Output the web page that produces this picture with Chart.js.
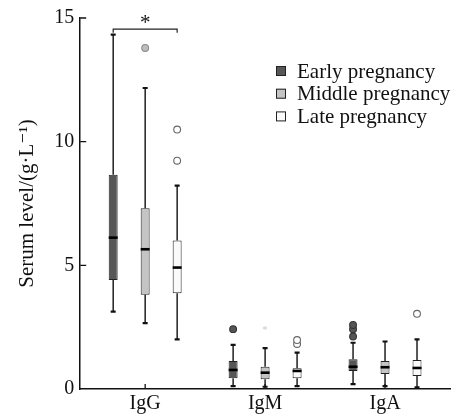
<!DOCTYPE html>
<html><head><meta charset="utf-8">
<script src="https://cdn.jsdelivr.net/npm/chart.js@4.4.1/dist/chart.umd.min.js"></script>
<style>html,body{margin:0;padding:0;background:#fff}#wrap{width:458px;height:419px;position:relative}</style>
</head><body><div id="wrap"><canvas id="c"></canvas></div>
<script>
const categories = ['IgG', 'IgM', 'IgA'];
const seriesNames = ['Early pregnancy', 'Middle pregnancy', 'Late pregnancy'];
const yTicks = [0, 5, 10, 15];

const earlyMin = [3.13, 0.12, 0.20];
const earlyQ1  = [4.41, 0.43, 0.73];
const earlyMed = [6.12, 0.77, 0.90];
const earlyQ3  = [8.66, 1.13, 1.20];
const earlyMax = [14.33, 1.78, 1.87];
const earlyOut = [[], [2.42], [2.12, 2.42, 2.59]];

const middleMin = [2.66, 0.09, 0.12];
const middleQ1  = [3.81, 0.39, 0.61];
const middleMed = [5.65, 0.66, 0.88];
const middleQ3  = [7.31, 0.90, 1.13];
const middleMax = [12.17, 1.65, 1.92];
const middleOut = [[13.79], [2.46], []];

const lateMin = [2.01, 0.12, 0.07];
const lateQ1  = [3.87, 0.43, 0.53];
const lateMed = [4.91, 0.73, 0.85];
const lateQ3  = [6.00, 0.84, 1.17];
const lateMax = [8.22, 1.47, 2.01];
const lateOut = [[9.23, 10.49], [1.82, 1.98], [3.04]];

const sigBracket = {category: 'IgG', from: 0, to: 2, level: 14.55, label: '*'};

const fills = ['#575757', '#c4c4c4', '#fafafa'];
const outlierFill = ['#555555', '#bdbdbd', '#ffffff'];
const outlierStroke = ['#333333', '#8a8a8a', '#666666'];

const stats = [
  {min: earlyMin, q1: earlyQ1, med: earlyMed, q3: earlyQ3, max: earlyMax, out: earlyOut},
  {min: middleMin, q1: middleQ1, med: middleMed, q3: middleQ3, max: middleMax, out: middleOut},
  {min: lateMin, q1: lateQ1, med: lateMed, q3: lateQ3, max: lateMax, out: lateOut}
];

const serif = "'Liberation Serif', 'DejaVu Serif', serif";

const datasets = stats.map((s, k) => ({
  label: seriesNames[k],
  data: categories.map((c, i) => [s.q1[i], s.q3[i]]),
  backgroundColor: fills[k],
  borderColor: '#222',
  borderWidth: 1,
  borderSkipped: false,
  categoryPercentage: 0.8,
  barPercentage: 0.28
}));

const boxPlugin = {
  id: 'boxExtras',
  afterDatasetsDraw(chart) {
    const ctx = chart.ctx;
    const y = chart.scales.y;
    const xs = chart.scales.x;
    const area = chart.chartArea;
    ctx.save();
    stats.forEach((s, k) => {
      const meta = chart.getDatasetMeta(k);
      meta.data.forEach((bar, i) => {
        const cx = bar.x;
        const w = bar.width;
        const yMin = y.getPixelForValue(s.min[i]);
        const yMax = y.getPixelForValue(s.max[i]);
        const yQ1 = y.getPixelForValue(s.q1[i]);
        const yQ3 = y.getPixelForValue(s.q3[i]);
        ctx.strokeStyle = '#111';
        ctx.lineWidth = 1.4;
        ctx.beginPath();
        ctx.moveTo(cx, yQ3); ctx.lineTo(cx, yMax);
        ctx.moveTo(cx, yQ1); ctx.lineTo(cx, yMin);
        ctx.stroke();
        ctx.lineWidth = 2.2;
        ctx.beginPath();
        ctx.moveTo(cx - 2.5, yMax); ctx.lineTo(cx + 2.5, yMax);
        ctx.moveTo(cx - 2.5, yMin); ctx.lineTo(cx + 2.5, yMin);
        ctx.stroke();
        const yMed = y.getPixelForValue(s.med[i]);
        ctx.lineWidth = 2.6;
        ctx.strokeStyle = '#000';
        ctx.beginPath();
        ctx.moveTo(cx - w / 2, yMed); ctx.lineTo(cx + w / 2, yMed);
        ctx.stroke();
        s.out[i].forEach(v => {
          const py = y.getPixelForValue(v);
          if (k === 1 && i === 1) {
            ctx.fillStyle = '#c8c8c8';
            ctx.font = '11px ' + serif;
            ctx.textAlign = 'center';
            ctx.textBaseline = 'middle';
            ctx.fillText('*', cx, py + 2);
          } else {
            ctx.beginPath();
            ctx.arc(cx, py, 3.4, 0, Math.PI * 2);
            ctx.fillStyle = outlierFill[k];
            ctx.fill();
            ctx.lineWidth = 1.1;
            ctx.strokeStyle = outlierStroke[k];
            ctx.stroke();
          }
        });
      });
    });
    const ci = categories.indexOf(sigBracket.category);
    const xa = chart.getDatasetMeta(sigBracket.from).data[ci].x;
    const xb = chart.getDatasetMeta(sigBracket.to).data[ci].x;
    const yb = y.getPixelForValue(sigBracket.level);
    ctx.strokeStyle = '#222';
    ctx.lineWidth = 1.2;
    ctx.beginPath();
    ctx.moveTo(xa, yb + 3.5); ctx.lineTo(xa, yb); ctx.lineTo(xb, yb); ctx.lineTo(xb, yb + 3.5);
    ctx.stroke();
    ctx.fillStyle = '#111';
    ctx.font = '21px ' + serif;
    ctx.textAlign = 'center';
    ctx.textBaseline = 'middle';
    ctx.fillText(sigBracket.label, (xa + xb) / 2, yb - 6);
    ctx.strokeStyle = '#111';
    ctx.lineWidth = 1.3;
    ctx.beginPath();
    yTicks.forEach(v => {
      const py = y.getPixelForValue(v);
      if (v === 0) return;
      ctx.moveTo(area.left, py); ctx.lineTo(area.left + 6, py);
    });
    categories.forEach((c, i) => {
      const px = xs.getPixelForValue(i);
      ctx.moveTo(px, area.bottom); ctx.lineTo(px, area.bottom - 5);
    });
    ctx.stroke();
    const lx = 276, ly0 = 71, dy = 22.7;
    seriesNames.forEach((name, k) => {
      const yy = ly0 + k * dy;
      ctx.fillStyle = fills[k];
      ctx.fillRect(lx, yy - 5, 10, 10);
      ctx.strokeStyle = '#222';
      ctx.lineWidth = 1;
      ctx.strokeRect(lx + 0.5, yy - 4.5, 9, 9);
      ctx.fillStyle = '#111';
      ctx.font = '21px ' + serif;
      ctx.textAlign = 'left';
      ctx.textBaseline = 'middle';
      ctx.fillText(name, lx + 21, yy + 1);
    });
    ctx.restore();
  }
};

const bgPlugin = {
  id: 'bg',
  beforeDraw(chart) {
    const ctx = chart.ctx;
    ctx.save();
    ctx.fillStyle = '#fff';
    ctx.fillRect(0, 0, chart.width, chart.height);
    ctx.restore();
  }
};

new Chart(document.getElementById('c'), {
  type: 'bar',
  data: {labels: categories, datasets},
  options: {
    responsive: true,
    maintainAspectRatio: false,
    animation: false,
    layout: {padding: {top: 8, right: 8, left: 15, bottom: 0}},
    plugins: {legend: {display: false}, tooltip: {enabled: false}},
    scales: {
      x: {
        grid: {display: false, drawTicks: false},
        border: {color: '#111', width: 1.5},
        ticks: {color: '#111', font: {family: serif, size: 20}, padding: 3},
        afterUpdate(scale) {
          // extra end margin on the category axis (axis line extends past outer groups)
          scale._startValue = -0.5417;
          scale._valueRange = 3.0834;
        }
      },
      y: {
        min: 0, max: 15,
        afterBuildTicks(scale) { scale.ticks = yTicks.map(v => ({value: v})); },
        grid: {display: false, drawTicks: false},
        border: {color: '#111', width: 1.5},
        ticks: {color: '#111', font: {family: serif, size: 20}, padding: 6},
        title: {display: true, text: 'Serum level/(g·L\u207B\u00B9)', color: '#111', font: {family: serif, size: 21}, padding: {top: 0, bottom: 8}}
      }
    }
  },
  plugins: [bgPlugin, boxPlugin]
});
</script></body></html>
